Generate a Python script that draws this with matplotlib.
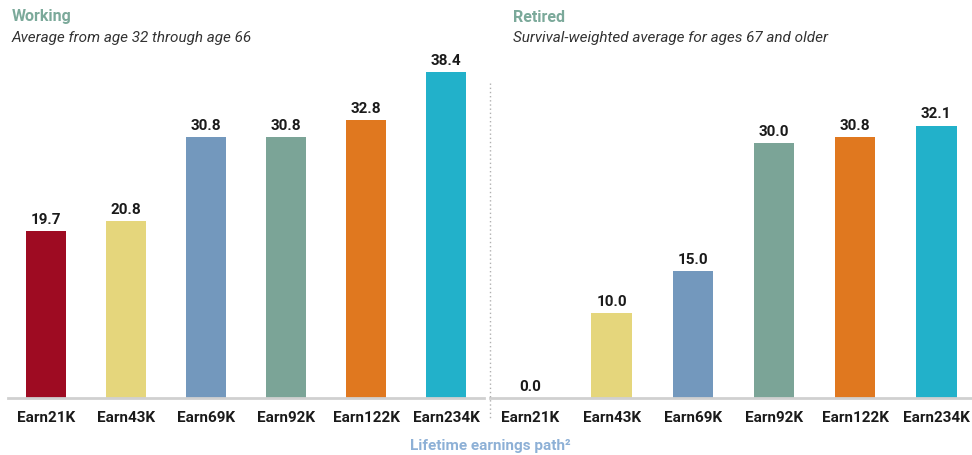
import matplotlib.pyplot as plt
from matplotlib.lines import Line2D
from matplotlib import rcParams

rcParams.update({
    "font.family": ["Roboto", "DejaVu Sans"],
    "font.size": 11,
})

# data
paths = ["Earn21K", "Earn43K", "Earn69K", "Earn92K", "Earn122K", "Earn234K"]
working = [19.7, 20.8, 30.8, 30.8, 32.8, 38.4]
retired = [0.0, 10.0, 15.0, 30.0, 30.8, 32.1]
colors = ["#9E0B22", "#E5D67C", "#7398BD", "#7BA497", "#E0781F", "#22B1CA"]

W, H = 972, 456
fig = plt.figure(figsize=(W / 100, H / 100), dpi=100)

base = 57 / H
height = 331 / H
ax1 = fig.add_axes([8 / W, base, 476 / W, height])
ax2 = fig.add_axes([490 / W, base, 482 / W, height])

def panel(ax, vals, xlim):
    x = range(len(vals))
    ax.bar(x, vals, width=0.5, color=colors, zorder=2)
    for i, v in enumerate(vals):
        ax.text(i, v + 0.6, f"{v:.1f}", ha="center", va="bottom",
                fontsize=11, fontweight="bold", color="#1a1a1a")
    ax.set_xlim(*xlim)
    ax.set_ylim(0, 39)
    ax.set_xticks(list(x))
    ax.set_xticklabels(paths, fontsize=11, fontweight="bold", color="#1a1a1a")
    ax.tick_params(axis="x", length=0, pad=9)
    ax.set_yticks([])
    for s in ["top", "right", "left"]:
        ax.spines[s].set_visible(False)
    ax.spines["bottom"].set_color("#d0d0d0")
    ax.spines["bottom"].set_linewidth(2)

panel(ax1, working, (-0.475, 5.475))
panel(ax2, retired, (-0.5, 5.44))

# titles
fig.text(12 / W, 1 - 17 / H, "Working", fontsize=11.5, fontweight="bold",
         color="#7BA99A", va="center")
fig.text(12 / W, 1 - 38 / H, "Average from age 32 through age 66", fontsize=11,
         style="italic", color="#333333", va="center")
fig.text(513 / W, 1 - 17 / H, "Retired", fontsize=11.5, fontweight="bold",
         color="#7BA99A", va="center")
fig.text(513 / W, 1 - 38 / H, "Survival-weighted average for ages 67 and older",
         fontsize=11, style="italic", color="#333333", va="center")

# x label
fig.text(490 / W, 1 - 446 / H, "Lifetime earnings path²", fontsize=11,
         fontweight="bold", color="#8DB0D6", ha="center", va="center")

# divider
fig.add_artist(Line2D([490 / W, 490 / W], [1 - 84 / H, 1 - 420 / H],
                      transform=fig.transFigure, color="#b0b0b0",
                      linestyle=(0, (1, 2)), linewidth=1))

fig.savefig("out.png", dpi=100)
